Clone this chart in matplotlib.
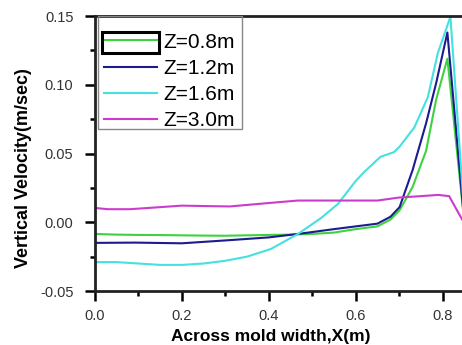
import matplotlib
matplotlib.use("Agg")
import matplotlib.pyplot as plt
from matplotlib.patches import Rectangle
from matplotlib.ticker import MultipleLocator

plt.rcParams['font.family'] = ['Liberation Sans', 'DejaVu Sans']

# -----------------------------------------------------------
# data
# -----------------------------------------------------------
x_08 = [0.0, 0.05, 0.1, 0.15, 0.2, 0.25, 0.3, 0.35, 0.4, 0.45, 0.5, 0.55,
        0.6, 0.65, 0.68, 0.701, 0.731, 0.762, 0.785, 0.811, 0.85]
v_08 = [-0.0085, -0.009, -0.0092, -0.0093, -0.0095, -0.0097, -0.0098, -0.0095,
        -0.0092, -0.009, -0.0085, -0.0075, -0.005, -0.003, 0.002, 0.0087,
        0.0257, 0.052, 0.089, 0.119, 0.0]

x_12 = [0.0, 0.092, 0.2, 0.31, 0.4, 0.467, 0.55, 0.6, 0.65, 0.68, 0.701,
        0.731, 0.762, 0.785, 0.811, 0.85]
v_12 = [-0.015, -0.0148, -0.0153, -0.013, -0.011, -0.0085, -0.005, -0.003,
        -0.001, 0.004, 0.011, 0.038, 0.072, 0.101, 0.138, 0.0]

x_16 = [0.0, 0.05, 0.1, 0.15, 0.2, 0.25, 0.3, 0.35, 0.405, 0.467, 0.52, 0.559,
        0.6, 0.619, 0.657, 0.688, 0.701, 0.735, 0.766, 0.789, 0.818, 0.85]
v_16 = [-0.029, -0.029, -0.030, -0.031, -0.031, -0.030, -0.028, -0.025,
        -0.0194, -0.0085, 0.003, 0.0133, 0.030, 0.0364, 0.0476, 0.051, 0.055,
        0.069, 0.091, 0.123, 0.1495, 0.005]

x_30 = [0.0, 0.03, 0.08, 0.15, 0.2, 0.25, 0.31, 0.4, 0.467, 0.55, 0.65, 0.70,
        0.75, 0.79, 0.815, 0.845]
v_30 = [0.0104, 0.0095, 0.0095, 0.011, 0.0121, 0.0118, 0.0115, 0.014, 0.0158,
        0.0158, 0.0158, 0.018, 0.019, 0.0199, 0.019, 0.002]

labels = ["Z=0.8m", "Z=1.2m", "Z=1.6m", "Z=3.0m"]
colors = ["#3fd23f", "#1c1c8f", "#45e0e0", "#cc3ccc"]

fig = plt.figure(figsize=(4.62, 3.45), dpi=100)
ax = fig.add_axes([0.2056, 0.1565, 0.80, 0.797])

for xs, vs, lab, col in zip([x_08, x_12, x_16, x_30],
                            [v_08, v_12, v_16, v_30], labels, colors):
    ax.plot(xs, vs, color=col, lw=1.5, label=lab)

ax.set_xlim(0, 0.8506)
ax.set_ylim(-0.05, 0.15)
ax.xaxis.set_minor_locator(MultipleLocator(0.1))
ax.yaxis.set_minor_locator(MultipleLocator(0.025))
ax.set_xticks([0.0, 0.2, 0.4, 0.6, 0.8])
ax.set_xticklabels(["0.0", "0.2", "0.4", "0.6", "0.8"])
ax.set_yticks([-0.05, 0.0, 0.05, 0.10, 0.15])
ax.set_yticklabels(["-0.05", "0.00", "0.05", "0.10", "0.15"])

for s in ax.spines.values():
    s.set_linewidth(2.0)
    s.set_color("#222222")
ax.tick_params(which="major", direction="out", length=7, width=1.8,
               labelsize=10.5, labelcolor="#333333", pad=6)
ax.tick_params(axis="y", which="major", pad=8.5)
ax.tick_params(which="minor", direction="out", length=3.5, width=1.8)

ax.set_xlabel("Across mold width,X(m)", fontsize=12.5, fontweight="bold")
ax.xaxis.set_label_coords(0.475, -0.138)
ax.set_ylabel("Vertical Velocity(m/sec)", fontsize=13, fontweight="bold")
ax.yaxis.set_label_coords(-0.170, 0.447)

leg = ax.legend(loc="upper left", bbox_to_anchor=(0.0103, 0.959), fontsize=15,
                frameon=False, borderpad=0.25, labelspacing=0.35,
                handlelength=2.55, handletextpad=0.29, borderaxespad=0.0)

# legend frame drawn separately (taller padding on top as in the reference)
ax.add_patch(Rectangle((0.008, 0.590), 0.389, 0.410, transform=ax.transAxes,
                       fill=False, edgecolor="#888888", lw=1.0, zorder=4))

# selection box around the first legend entry
fig.patches.append(Rectangle((102 / 462, (345 - 53) / 345), 57 / 462, 21 / 345,
                             transform=fig.transFigure, fill=False,
                             edgecolor="black", lw=2.2))

fig.savefig("out.png", dpi=100)
